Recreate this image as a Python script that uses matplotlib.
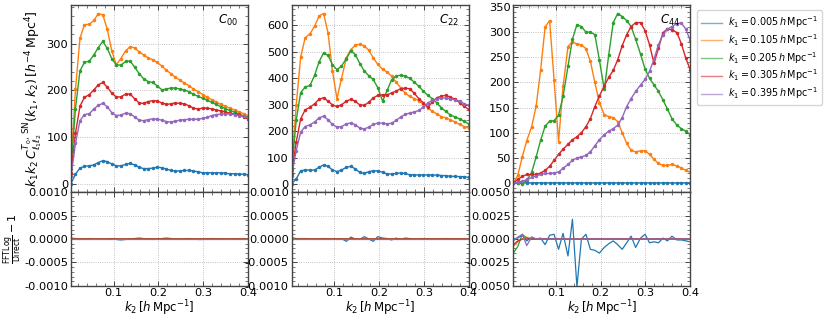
import numpy as np
import matplotlib.pyplot as plt

plt.rcParams['font.family'] = ['DejaVu Sans']
plt.rcParams['mathtext.fontset'] = 'dejavusans'

# k2 grid [h/Mpc]
k2 = [0.005, 0.015, 0.025, 0.035, 0.046, 0.056, 0.066, 0.076, 0.086, 0.096,
      0.106, 0.116, 0.127, 0.137, 0.147, 0.157, 0.167, 0.177, 0.187, 0.197,
      0.208, 0.218, 0.228, 0.238, 0.248, 0.258, 0.268, 0.278, 0.289, 0.299,
      0.309, 0.319, 0.329, 0.339, 0.349, 0.359, 0.370, 0.380, 0.390, 0.400]

k1_labels = ['0.005', '0.105', '0.205', '0.305', '0.395']
colors = ['C0', 'C1', 'C2', 'C3', 'C4']
panel_names = [r'$C_{00}$', r'$C_{22}$', r'$C_{44}$']

# C00
c00_k005 = [0, 20, 33, 37, 38, 40, 45, 49, 47, 42, 38, 38, 41, 43, 40, 35, 32, 32, 33, 35,
            34, 31, 28, 27, 27, 28, 28, 27, 25, 23, 23, 23, 23, 23, 22, 21, 21, 20, 20, 19]
c00_k105 = [40, 202, 312, 341, 342, 350, 365, 362, 331, 285, 255, 268, 285, 294, 291, 283, 276, 270, 266, 260,
            252, 243, 236, 228, 222, 216, 210, 203, 197, 191, 185, 180, 175, 170, 166, 162, 158, 154, 150, 146]
c00_k205 = [32, 161, 242, 260, 263, 276, 292, 305, 290, 268, 255, 254, 262, 263, 250, 236, 225, 219, 217, 210,
            201, 203, 205, 205, 203, 201, 197, 192, 187, 183, 179, 174, 170, 165, 161, 157, 153, 149, 145, 142]
c00_k305 = [22, 108, 166, 185, 191, 201, 212, 217, 207, 194, 186, 186, 192, 192, 182, 173, 172, 176, 178, 177,
            173, 170, 171, 173, 172, 171, 167, 162, 160, 162, 162, 160, 158, 156, 154, 151, 149, 147, 143, 139]
c00_k395 = [16, 86, 135, 148, 150, 160, 168, 172, 165, 152, 146, 147, 151, 150, 143, 136, 135, 137, 139, 138,
            136, 133, 132, 134, 136, 137, 138, 138, 138, 140, 142, 146, 148, 149, 150, 149, 148, 146, 144, 141]

# C22
c22_k005 = [2, 19, 50, 53, 53, 53, 63, 72, 67, 53, 47, 53, 63, 67, 57, 44, 40, 47, 50, 50,
            44, 38, 38, 40, 42, 40, 35, 35, 34, 34, 35, 34, 34, 32, 32, 29, 29, 28, 28, 25]
c22_k105 = [50, 297, 480, 552, 568, 596, 634, 644, 572, 427, 322, 398, 477, 508, 524, 528, 522, 505, 477, 452,
            433, 423, 407, 385, 364, 344, 331, 323, 315, 303, 288, 274, 265, 255, 250, 243, 234, 225, 217, 211]
c22_k205 = [57, 240, 345, 366, 373, 410, 461, 495, 486, 451, 432, 445, 474, 503, 489, 455, 427, 409, 395, 364,
            313, 354, 394, 408, 411, 408, 400, 385, 369, 350, 335, 322, 306, 288, 274, 261, 253, 246, 237, 227]
c22_k305 = [38, 158, 246, 280, 290, 303, 320, 326, 313, 299, 293, 299, 313, 320, 312, 299, 297, 309, 325, 335,
            337, 337, 344, 351, 360, 362, 360, 344, 322, 306, 291, 309, 326, 332, 335, 328, 320, 307, 293, 282]
c22_k395 = [32, 126, 196, 217, 224, 234, 250, 256, 243, 225, 215, 217, 227, 231, 224, 211, 208, 215, 225, 230,
            230, 227, 230, 240, 253, 263, 268, 272, 278, 291, 306, 316, 322, 325, 325, 322, 318, 313, 303, 297]

# C44
c44_k005 = [0, 0.2, 0.3, 0.3, 0.3, 0.3, 0.3, 0.3, 0.3, 0.3, 0.3, 0.3, 0.3, 0.3, 0.3, 0.3, 0.3, 0.3, 0.3, 0.3,
            0.3, 0.3, 0.3, 0.3, 0.3, 0.3, 0.3, 0.3, 0.3, 0.3, 0.3, 0.3, 0.3, 0.3, 0.3, 0.3, 0.3, 0.3, 0.3, 0.3]
c44_k105 = [0, 15, 52, 84, 112, 153, 225, 310, 323, 205, 82, 192, 271, 281, 276, 275, 267, 242, 200, 160,
            136, 132, 130, 122, 100, 79, 65, 62, 64, 64, 57, 47, 39, 35, 35, 37, 34, 30, 25, 22]
c44_k205 = [0, 0, -1, 5, 21, 52, 85, 113, 123, 124, 135, 172, 232, 286, 315, 311, 300, 300, 295, 245,
            186, 255, 319, 337, 331, 323, 311, 286, 256, 227, 208, 195, 182, 165, 147, 128, 115, 108, 103, 96]
c44_k305 = [0, 7, 13, 17, 17, 17, 20, 25, 33, 45, 57, 67, 77, 86, 92, 100, 112, 128, 152, 173,
            193, 210, 224, 245, 273, 295, 311, 319, 319, 303, 275, 238, 268, 299, 306, 305, 299, 277, 248, 225]
c44_k395 = [0, 2, 3, 7, 11, 14, 17, 19, 19, 20, 22, 29, 37, 45, 50, 52, 55, 62, 74, 86,
            96, 103, 108, 115, 130, 152, 168, 182, 195, 206, 222, 246, 275, 295, 306, 311, 317, 318, 306, 283]

# FFTLog / Direct - 1, in units of 1e-5
r00_k005 = [0, 0, -1, 0, 1, 0, 0, -1, 0, 1, -1, -2, -1, 0, 1, 2, 1, 0, -1, 0,
            1, 2, 1, 0, -1, 0, 1, 0, -1, -1, 0, 1, 0, 0, -1, 0, 0, 0, 0, 0]
r00_k105 = [1, 0, 0, 0, 0, 0, 0, 0, 0, 0, 0, 0, 0, 0, 0, 0, 0, 0, 0, 0,
            0, 0, 0, 0, 0, 0, 0, 0, 0, 0, 0, 0, 0, 0, 0, 0, 0, 0, 0, 0]
r00_k205 = [2, 1, 0, 0, 0, 0, 0, 0, 0, 0, 0, 0, 0, 0, 0, 0, 0, 0, 0, 0,
            0, 0, 0, 0, 0, 0, 0, 0, 0, 0, 0, 0, 0, 0, 0, 0, 0, 0, 0, 0]
r00_k305 = [1, 0, 0, 0, 0, 0, 0, 0, 0, 0, 0, 0, 0, 0, 0, 0, 0, 0, 0, 0,
            0, 0, 0, 0, 0, 0, 0, 0, 0, 0, 0, 0, 0, 0, 0, 0, 0, 0, 0, 0]
r00_k395 = [0, 0, 0, 0, 0, 0, 0, 0, 0, 0, 0, 0, 0, 0, 0, 0, 0, 0, 0, 0,
            0, 0, 0, 0, 0, 0, 0, 0, 0, 0, 0, 0, 0, 0, 0, 0, 0, 0, 0, 0]

r22_k005 = [0, 0, 0, 1, 0, -1, 0, 1, 0, -1, 0, 1, -5, 4, 0, -1, 5, 0, -5, 5,
            2, 1, -2, 2, -1, 2, 1, -1, 0, 1, 0, -1, 0, 0, 1, 0, 0, 0, 0, 0]
r22_k105 = [-2, 0, 0, 0, 0, 0, 0, 0, 0, 0, 0, 0, 0, 0, 0, 0, 0, 0, 0, 0,
            0, 0, 0, 0, 0, 0, 0, 0, 0, 0, 0, 0, 0, 0, 0, 0, 0, 0, 0, 0]
r22_k205 = [3, 1, 0, 0, 0, 0, 0, 0, 0, 0, 0, 0, 0, 0, 0, 0, 0, 0, 0, 0,
            0, 0, 0, 0, 0, 0, 0, 0, 0, 0, 0, 0, 0, 0, 0, 0, 0, 0, 0, 0]
r22_k305 = [-1, 0, 0, 0, 0, 0, 0, 0, 0, 0, 0, 0, 0, 0, 0, 0, 0, 0, 0, 0,
            0, 0, 0, 0, 0, 0, 0, 0, 0, 0, 0, 0, 0, 0, 0, 0, 0, 0, 0, 0]
r22_k395 = [0, 0, 0, 0, 0, 0, 0, 0, 0, 0, 0, 0, 0, 0, 0, 0, 0, 0, 0, 0,
            0, 0, 0, 0, 0, 0, 0, 0, 0, 0, 0, 0, 0, 0, 0, 0, 0, 0, 0, 0]

r44_k005 = [0, 10, 40, -20, 20, 0, 10, -60, 40, 50, -110, 60, -180, 210, -510, 0, 50, -110, -120, -150,
            -90, -50, -20, -60, -110, -40, 30, -90, 10, 50, -40, -30, -40, 10, -20, 30, -10, -10, -20, -30]
r44_k105 = [-80, -30, 0, 20, 0, 0, 0, 0, 0, 0, 0, 0, 0, 0, 0, 0, 0, 0, 0, 0,
            0, 0, 0, 0, 0, 0, 0, 0, 0, 0, 0, 0, 0, 0, 0, 0, 0, 0, 0, 0]
r44_k205 = [-150, -80, 50, 10, 0, 0, 0, 0, 0, 0, 0, 0, 0, 0, 0, 0, 0, 0, 0, 0,
            0, 0, 0, 0, 0, 0, 0, 0, 0, 0, 0, 0, 0, 0, 0, 0, 0, 0, 0, 0]
r44_k305 = [-60, -20, 0, 0, 0, 0, 0, 0, 0, 0, 0, 0, 0, 0, 0, 0, 0, 0, 0, 0,
            0, 0, 0, 0, 0, 0, 0, 0, 0, 0, 0, 0, 0, 0, 0, 0, 0, 0, 0, 0]
r44_k395 = [-20, 20, 50, -70, 20, 0, 0, 0, 0, 0, 0, 0, 0, 0, 0, 0, 0, 0, 0, 0,
            0, 0, 0, 0, 0, 0, 0, 0, 0, 0, 0, 0, 0, 0, 0, 0, 0, 0, 0, 0]

top_data = [[c00_k005, c00_k105, c00_k205, c00_k305, c00_k395],
            [c22_k005, c22_k105, c22_k205, c22_k305, c22_k395],
            [c44_k005, c44_k105, c44_k205, c44_k305, c44_k395]]
res_data = [[r00_k005, r00_k105, r00_k205, r00_k305, r00_k395],
            [r22_k005, r22_k105, r22_k205, r22_k305, r22_k395],
            [r44_k005, r44_k105, r44_k205, r44_k305, r44_k395]]
res_lims = [0.001, 0.001, 0.005]
res_steps = [0.0005, 0.0005, 0.0025]

k2 = np.array(k2)
fig = plt.figure(figsize=(8.3, 3.17), dpi=100)

lefts = [71 / 830, 291.7 / 830, 513.3 / 830]
width = 177 / 830


def style(ax):
    ax.tick_params(which='both', direction='in', top=True, right=True,
                   labelsize=8.2, color='#444444')
    ax.tick_params(axis='y', pad=2)
    ax.tick_params(axis='x', pad=1.5)
    ax.tick_params(which='major', length=3.5, width=0.7)
    ax.tick_params(which='minor', length=2, width=0.5)
    ax.minorticks_on()
    ax.grid(True, which='major', ls=':', lw=0.6, color='#b0b0b0')
    for s in ax.spines.values():
        s.set_color('#444444')
        s.set_linewidth(1.0)


handles = []
for p in range(3):
    ax_t = fig.add_axes([lefts[p], 0.3943, width, 0.5899])
    ax_b = fig.add_axes([lefts[p], 0.0978, width, 0.2965], sharex=ax_t)
    for j in range(5):
        ax_t.plot(k2, top_data[p][j], '.-', color=colors[j], lw=1, ms=3)
        ax_b.plot(k2, np.array(res_data[p][j]) * 1e-5, '-', color=colors[j], lw=0.9)
        if p == 0:
            handles.append(plt.Line2D([], [], color=colors[j], lw=1, alpha=0.6,
                                      label=r'$k_1 = %s\,h\,\mathrm{Mpc}^{-1}$' % k1_labels[j]))
    ax_t.set_xlim(0.005, 0.4)
    ax_t.tick_params(labelbottom=False)
    ax_t.text(0.945, 0.92, panel_names[p], transform=ax_t.transAxes,
              ha='right', va='center', fontsize=8.5)
    lim = res_lims[p]
    ax_b.set_ylim(-lim, lim)
    ax_b.set_yticks(np.arange(-lim, lim + res_steps[p] / 2, res_steps[p]))
    ax_b.yaxis.set_major_formatter(plt.FormatStrFormatter('%.4f'))
    ax_b.set_xticks([0.1, 0.2, 0.3, 0.4])
    ax_b.set_xlabel(r'$k_2\,[h\,\mathrm{Mpc}^{-1}]$', fontsize=8.5, labelpad=0)
    style(ax_t)
    style(ax_b)
    if p == 0:
        ax_t.set_ylabel(r'$k_1 k_2\, C^{T_0,\,\mathrm{SN}}_{\ell_1\ell_2}(k_1,k_2)\,[h^{-4}\,\mathrm{Mpc}^4]$',
                        fontsize=9, labelpad=1)
        ax_b.set_ylabel(r'$\frac{\mathrm{FFTLog}}{\mathrm{Direct}} - 1$', fontsize=8, labelpad=0)

fig.legend(handles=handles, loc='upper left', bbox_to_anchor=(697 / 830, 1 - 10 / 317),
           fontsize=6.9, frameon=True, handlelength=2.2, borderpad=0.45,
           labelspacing=0.2, handletextpad=0.6, borderaxespad=0)

plt.savefig('out.png', dpi=100)
